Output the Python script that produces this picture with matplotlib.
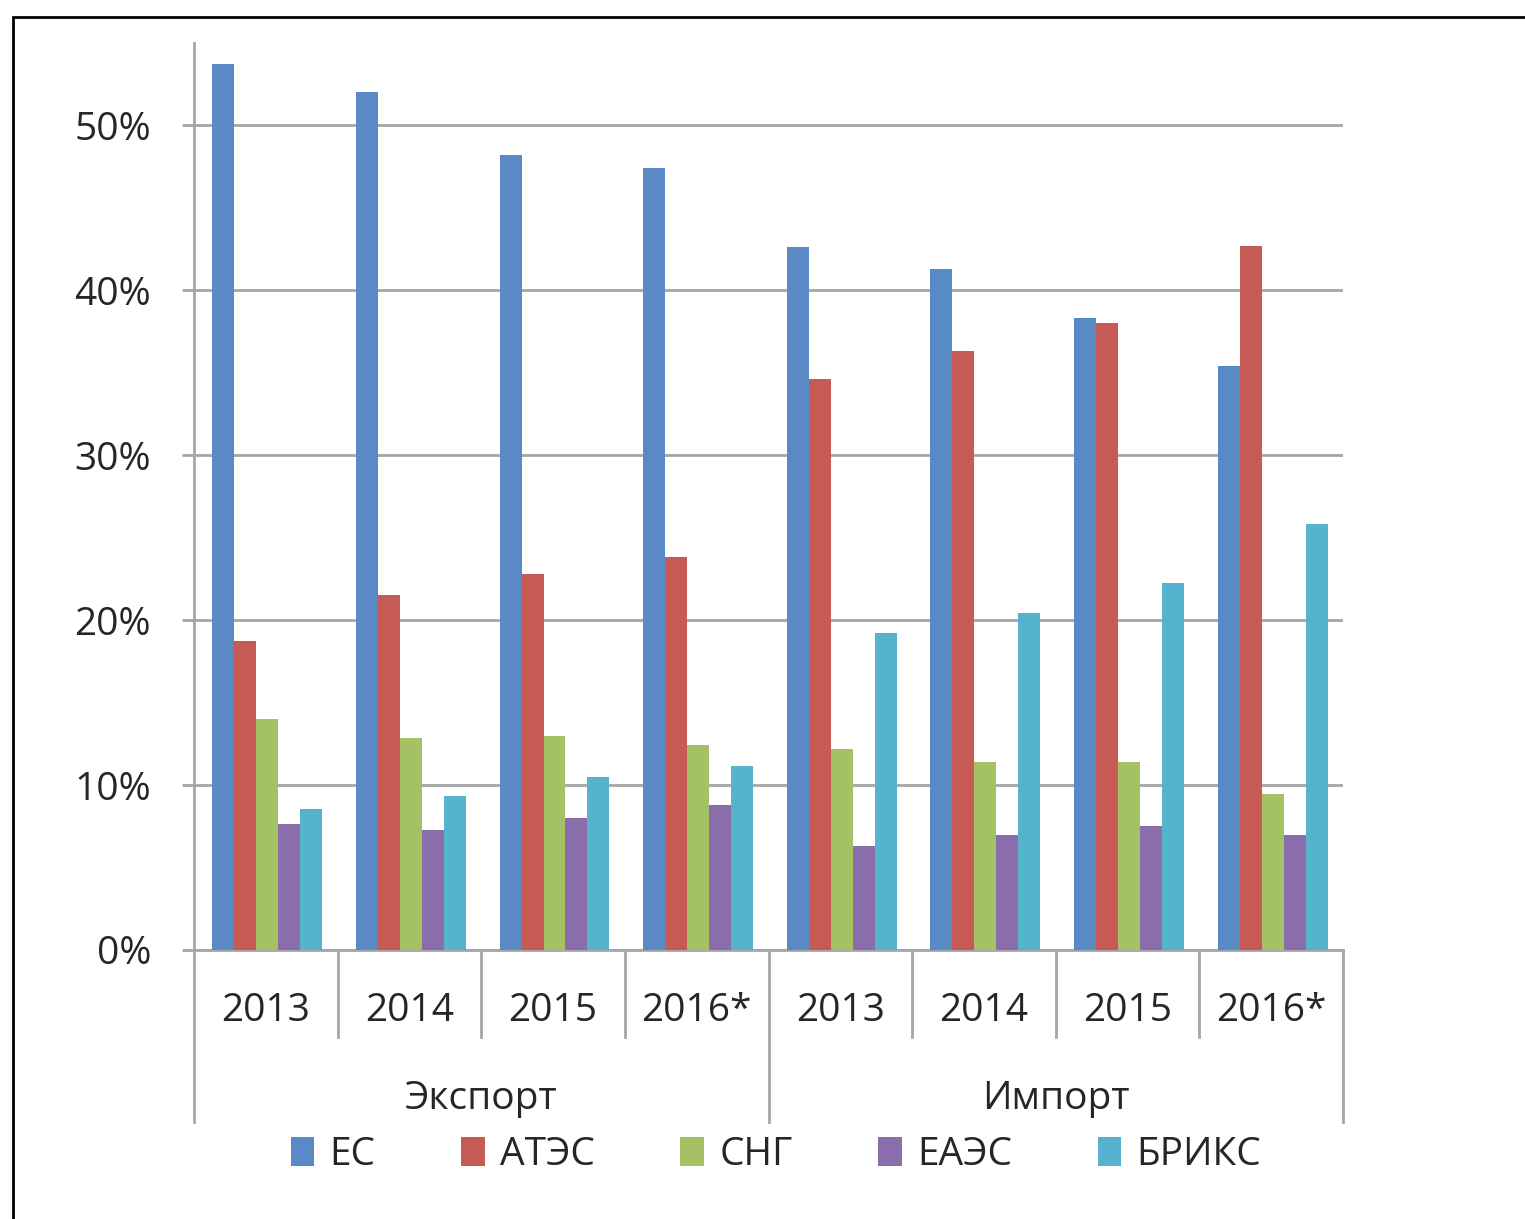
import numpy as np
import matplotlib.pyplot as plt
from matplotlib.patches import Rectangle

plt.rcParams['font.family'] = ['Open Sans', 'DejaVu Sans']

years = ["2013", "2014", "2015", "2016*"]
groups = ["Экспорт", "Импорт"]
series = ["ЕС", "АТЭС", "СНГ", "ЕАЭС", "БРИКС"]
colors = ["#5A8AC6", "#C65A55", "#A5C165", "#8A6DAA", "#55B3CE"]

# values in %, export 2013..2016*, then import 2013..2016*
es    = [53.7, 52.0, 48.2, 47.45, 42.6, 41.3, 38.35, 35.4]
ates  = [18.75, 21.5, 22.8, 23.85, 34.6, 36.3, 38.0, 42.7]
sng   = [14.0, 12.85, 13.0, 12.45, 12.2, 11.4, 11.4, 9.45]
eaes  = [7.65, 7.3, 8.0, 8.8, 6.3, 7.0, 7.5, 7.0]
briks = [8.55, 9.35, 10.5, 11.15, 19.2, 20.45, 22.25, 25.85]
data = [es, ates, sng, eaes, briks]

text_col = "#262626"
grid_col = "#A6A6A6"
fs = 28

fig = plt.figure(figsize=(15.25, 12.19), dpi=100)
ax = fig.add_axes([194/1525, 1-950/1219, (1343-194)/1525, (950-43)/1219])

n = len(es)
x = np.arange(n) + 0.51
w = 0.153
for k, (vals, c) in enumerate(zip(data, colors)):
    ax.bar(x + (k-2)*w, vals, width=w, color=c, label=series[k], zorder=3)

ax.set_xlim(0, n)
ax.set_ylim(0, 55)
ax.set_yticks([0, 10, 20, 30, 40, 50])
ax.set_yticklabels([f"{t}%" for t in [0, 10, 20, 30, 40, 50]], fontsize=fs, color=text_col)
ax.tick_params(axis='y', length=9, width=2, color=grid_col, pad=22)
ax.set_xticks([])
ax.yaxis.grid(True, color=grid_col, lw=2, zorder=0)
for s in ['top', 'right']:
    ax.spines[s].set_visible(False)
ax.spines['left'].set_color(grid_col)
ax.spines['left'].set_linewidth(2)
ax.spines['bottom'].set_color(grid_col)
ax.spines['bottom'].set_linewidth(2)

# multi-level category axis
tr = ax.get_xaxis_transform()
for i in range(n + 1):
    depth = 0.190 if i % 4 == 0 else 0.096
    ax.plot([i, i], [0, -depth], color=grid_col, lw=2, clip_on=False, transform=tr)
for i in range(n):
    ax.text(i + 0.5, -0.067, years[i % 4], ha='center', va='center',
            fontsize=fs, color=text_col, transform=tr)
for g, name in enumerate(groups):
    ax.text(g*4 + 2, -0.164, name, ha='center', va='center',
            fontsize=fs, color=text_col, transform=tr)

leg = fig.legend(loc='center', bbox_to_anchor=(776/1525, 1-1155/1219), ncol=5,
                 frameon=False, fontsize=fs, handlelength=0.6, handleheight=0.8,
                 handletextpad=0.4, columnspacing=2.2, borderpad=0)
for t in leg.get_texts():
    t.set_color(text_col)

# outer frame of the picture
fig.patches.append(Rectangle((13/1525, -0.1), 1.2, 1 - 17/1219 + 0.1,
                             transform=fig.transFigure, fill=False,
                             edgecolor='black', lw=2))

fig.savefig("out.png", dpi=100)
